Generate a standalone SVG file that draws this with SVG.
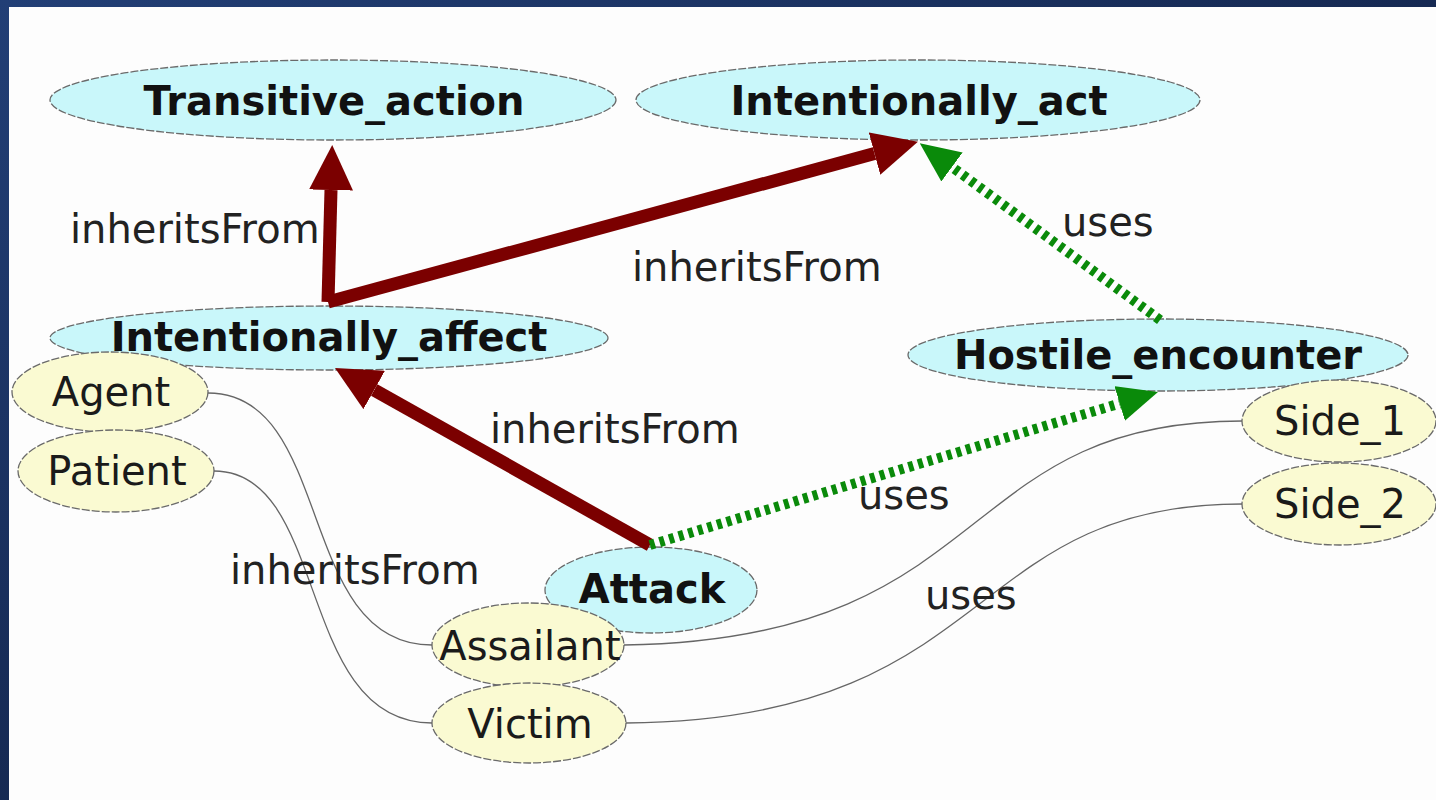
<svg xmlns="http://www.w3.org/2000/svg" width="1436" height="800" viewBox="0 0 1436 800">
<defs>
<linearGradient id="bg" x1="0" y1="0" x2="1" y2="1">
<stop offset="0" stop-color="#223f76"/>
<stop offset="1" stop-color="#0a1430"/>
</linearGradient>
<marker id="redHead" markerUnits="userSpaceOnUse" viewBox="0 0 45 44" refX="0" refY="22" markerWidth="45" markerHeight="44" orient="auto">
<path d="M0,0 L45,22 L0,44 Z" fill="#7b0000"/>
</marker>
<marker id="greenHead" markerUnits="userSpaceOnUse" viewBox="0 0 40 36" refX="0" refY="18" markerWidth="40" markerHeight="36" orient="auto">
<path d="M0,0 L40,18 L0,36 Z" fill="#0a8a0a"/>
</marker>
<style>
.panel{fill:#fdfdfd}
.frameEll{fill:#c9f7fa;stroke:#6a6a6a;stroke-width:1.3;stroke-dasharray:8 2}
.roleEll{fill:#fafad2;stroke:#6a6a6a;stroke-width:1.3;stroke-dasharray:8 2}
.bold{font-family:"DejaVu Sans",sans-serif;font-weight:bold;font-size:40px;fill:#111;text-anchor:middle}
.role{font-family:"DejaVu Sans",sans-serif;font-size:40px;fill:#1a1a1a;text-anchor:middle}
.lbl{font-family:"DejaVu Sans",sans-serif;font-size:40px;fill:#222}
.inh{fill:none;stroke:#7b0000;stroke-width:13;marker-end:url(#redHead)}
.use{fill:none;stroke:#0a8a0a;stroke-width:10;stroke-dasharray:5 5;marker-end:url(#greenHead)}
.map{fill:none;stroke:#666;stroke-width:1.3}
</style>
</defs>
<rect x="0" y="0" width="1436" height="800" fill="url(#bg)"/>
<rect class="panel" x="9" y="7" width="1427" height="793"/>

<g id="Transitive_action"><ellipse class="frameEll" cx="333" cy="100" rx="283" ry="40"/><text class="bold" x="334" y="115">Transitive_action</text></g>
<g id="Intentionally_act"><ellipse class="frameEll" cx="918" cy="100" rx="282" ry="40"/><text class="bold" x="919" y="115">Intentionally_act</text></g>
<g id="Intentionally_affect"><ellipse class="frameEll" cx="329" cy="338" rx="279" ry="32"/><text class="bold" x="329" y="351">Intentionally_affect</text></g>
<g id="Hostile_encounter"><ellipse class="frameEll" cx="1158" cy="355" rx="250" ry="36"/><text class="bold" x="1158" y="369">Hostile_encounter</text></g>
<g id="Attack"><ellipse class="frameEll" cx="651" cy="590" rx="106" ry="43"/><text class="bold" x="652" y="603">Attack</text></g>
<g id="Agent"><ellipse class="roleEll" cx="110" cy="392" rx="98" ry="40"/><text class="role" x="111" y="406">Agent</text></g>
<g id="Patient"><ellipse class="roleEll" cx="116" cy="471" rx="98" ry="41"/><text class="role" x="117" y="485">Patient</text></g>
<g id="Side_1"><ellipse class="roleEll" cx="1339" cy="421" rx="97" ry="41"/><text class="role" x="1340" y="435">Side_1</text></g>
<g id="Side_2"><ellipse class="roleEll" cx="1339" cy="504" rx="97" ry="41"/><text class="role" x="1340" y="518">Side_2</text></g>
<g id="Assailant"><ellipse class="roleEll" cx="528" cy="645" rx="96" ry="42"/><text class="role" x="530" y="660">Assailant</text></g>
<g id="Victim"><ellipse class="roleEll" cx="529" cy="723" rx="97" ry="40"/><text class="role" x="530" y="738">Victim</text></g>

<g id="connectors">
<path class="map" d="M208,393 C335,393 295,645 432,645"/>
<path class="map" d="M214,471 C330,471 295,723 432,723"/>
<path class="map" d="M624,645 C1000,640 950,421 1242,421"/>
<path class="map" d="M626,723 C1000,720 960,504 1242,504"/>
<path class="inh" d="M328,302 L331,190"/>
<path class="inh" d="M328,302 L874.5,153.6"/>
<path class="inh" d="M650,545 L374.2,390"/>
<path class="use" d="M650,545 L1119.7,403.5"/>
<path class="use" d="M1160,320 L952,167"/>
</g>

<g id="labels">
<text class="lbl" x="70" y="243">inheritsFrom</text>
<text class="lbl" x="632" y="281">inheritsFrom</text>
<text class="lbl" x="490" y="443">inheritsFrom</text>
<text class="lbl" x="230" y="584">inheritsFrom</text>
<text class="lbl" x="1062" y="236">uses</text>
<text class="lbl" x="858" y="509">uses</text>
<text class="lbl" x="925" y="609">uses</text>
</g>
</svg>
